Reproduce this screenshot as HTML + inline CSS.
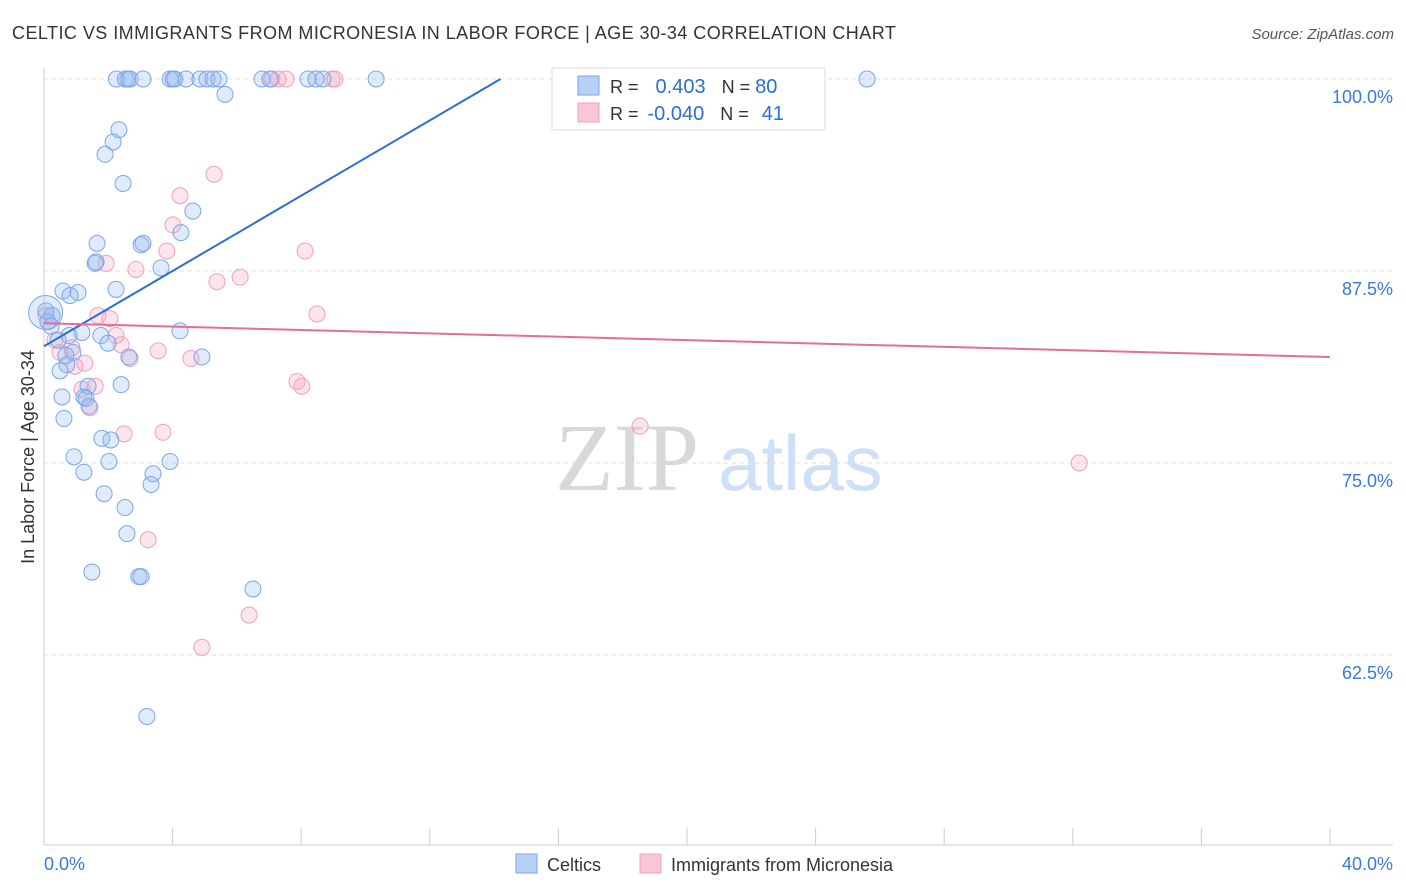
<!DOCTYPE html>
<html><head><meta charset="utf-8"><style>
body{margin:0;background:#fff;font-family:"Liberation Sans",sans-serif;}
svg{display:block}
</style></head><body>
<svg id="chart" width="1406" height="892" xmlns="http://www.w3.org/2000/svg">
<text x="12" y="39" font-size="18" fill="#333" letter-spacing="0.45">CELTIC VS IMMIGRANTS FROM MICRONESIA IN LABOR FORCE | AGE 30-34 CORRELATION CHART</text>
<text x="1394" y="39" font-size="15" fill="#555" font-style="italic" text-anchor="end">Source: ZipAtlas.com</text>
<text x="34" y="457" font-size="18" fill="#333" text-anchor="middle" transform="rotate(-90 34 457)">In Labor Force | Age 30-34</text>
<g id="grid"></g>
<text x="555" y="490" font-size="96" fill="#d8d8d8" font-family="Liberation Serif,serif">ZIP</text>
<text x="718" y="490" font-size="78" fill="#cfdff5">atlas</text>
<g id="marks"></g>
<g>
<rect x="552" y="68" width="273" height="62" fill="#fff" stroke="#ddd"/>
<rect x="578" y="76" width="21" height="19" fill="#b8d0f5" stroke="#7aa6e8"/>
<rect x="578" y="103" width="21" height="19" fill="#f9c6d6" stroke="#f0a0bc"/>
<text x="610" y="93" font-size="18" fill="#333">R = <tspan fill="#2a6fd4" dx="12" font-size="20">0.403</tspan><tspan dx="16" fill="#333">N = </tspan><tspan fill="#2a6fd4" font-size="20">80</tspan></text>
<text x="610" y="120" font-size="18" fill="#333">R = <tspan fill="#2a6fd4" dx="4" font-size="20">-0.040</tspan><tspan dx="16" fill="#333">N = </tspan><tspan fill="#2a6fd4" dx="8" font-size="20">41</tspan></text>
</g>
<g>
<rect x="516" y="854" width="21" height="19" fill="#b8d0f5" stroke="#7aa6e8"/>
<text x="547" y="871" font-size="18" fill="#333">Celtics</text>
<rect x="640" y="854" width="21" height="19" fill="#f9c6d6" stroke="#f0a0bc"/>
<text x="671" y="871" font-size="18" fill="#333">Immigrants from Micronesia</text>
</g>
</svg>
<script>
const yTicks=[100,87.5,75,62.5];
const yTickLabels=["100.0%","87.5%","75.0%","62.5%"];
const xLabels=["0.0%","40.0%"];
const blueX=[2.25,2.53,2.68,2.61,3.08,3.92,4.01,4.07,4.42,4.85,5.07,5.26,5.44,6.78,7.03,8.21,8.46,8.68,10.33,25.6,5.63,2.33,2.15,1.9,2.46,4.63,4.26,1.65,3.02,3.08,1.59,1.62,3.64,0.59,1.06,2.24,0.81,0.06,0.25,0.12,0.22,4.23,1.18,0.78,1.77,1.99,0.44,0.9,0.68,2.64,4.91,0.71,0.5,1.37,2.4,0.56,1.24,1.31,1.4,0.62,1.8,2.08,0.93,2.02,3.39,3.92,1.24,3.33,1.87,2.52,2.58,1.49,2.95,3.02,6.5,3.2,0.05];
const blueY=[100,100,100,100,100,100,100,100,100,100,100,100,100,100,100,100,100,100,100,100,99.0,96.7,95.9,95.1,93.2,91.4,90.0,89.3,89.2,89.3,88.0,88.1,87.7,86.2,86.1,86.3,85.9,84.9,84.6,84.2,83.9,83.6,83.5,83.3,83.3,82.8,83.0,82.2,82.0,81.9,81.9,81.4,81.0,80.0,80.1,79.3,79.3,79.2,78.7,77.9,76.6,76.5,75.4,75.1,74.3,75.1,74.4,73.6,73.0,72.1,70.4,67.9,67.6,67.6,66.8,58.5,84.8];
const blueR=[8,8,8,8,8,8,8,8,8,8,8,8,8,8,8,8,8,8,8,8,8,8,8,8,8,8,8,8,8,8,8,8,8,8,8,8,8,8,8,8,8,8,8,8,8,8,8,8,8,8,8,8,8,8,8,8,8,8,8,8,8,8,8,8,8,8,8,8,8,8,8,8,8,8,8,8,17];
const pinkX=[7.09,7.28,7.53,8.96,9.05,5.29,4.23,4.01,8.12,3.82,1.93,2.86,6.1,5.38,8.49,1.68,2.05,2.24,0.34,2.4,0.87,3.55,2.68,4.57,1.27,0.96,7.87,8.02,1.59,1.18,1.43,2.49,3.7,18.54,32.2,3.24,6.38,4.91,0.06,0.5];
const pinkY=[100,100,100,100,100,93.8,92.4,90.5,88.8,88.8,88.0,87.6,87.1,86.8,84.7,84.6,84.4,83.3,83.0,82.7,82.5,82.3,81.8,81.8,81.5,81.3,80.3,80.0,80.0,79.8,78.6,76.9,77.0,77.4,75.0,70.0,65.1,63.0,84.6,82.2];
const fitBlue=[[0,82.6],[14.2,100]];
const fitPink=[[0,84.1],[40,81.9]];
const X=v=>44+v/40*1286, Y=v=>79+(100-v)*15.36;
const ns="http://www.w3.org/2000/svg";
const grid=document.getElementById('grid'), marks=document.getElementById('marks');
function mk(tag,at,parent){const e=document.createElementNS(ns,tag);for(const k in at)e.setAttribute(k,at[k]);parent.appendChild(e);return e;}
yTicks.forEach((t,i)=>{
 const l=mk('line',{x1:44,x2:1393,y1:Y(t),y2:Y(t),stroke:'#ddd','stroke-dasharray':'4,4'},grid);
 
 
 const tx=mk('text',{x:1393,y:Y(t)+24,'font-size':18,fill:'#3b78d8','text-anchor':'end'},grid);
 tx.textContent=yTickLabels[i];
 
 
});
const ax=mk('line',{x1:44,x2:1393,y1:845,y2:845,stroke:'#ccc'},grid);


const ay=mk('line',{x1:44,x2:44,y1:68,y2:845,stroke:'#ccc'},grid);


for(let i=1;i<=10;i++){const t=mk('line',{x1:X(i*4),x2:X(i*4),y1:828,y2:845,stroke:'#ccc'},grid);
 
 }
[[0,'start',44],[40,'end',1393]].forEach((d,i)=>{const t=mk('text',{x:d[2],y:870,'font-size':18,fill:'#3b78d8','text-anchor':d[1]},grid);t.textContent=xLabels[i];
 
 });
pinkX.forEach((x,i)=>{const c=mk('circle',{cx:X(x),cy:Y(pinkY[i]),r:8,fill:'rgba(245,170,195,0.3)',stroke:'#f0a0bc','stroke-width':1},marks);
 
 });
blueX.forEach((x,i)=>{const c=mk('circle',{cx:X(x),cy:Y(blueY[i]),r:blueR[i],fill:'rgba(150,185,240,0.3)',stroke:'#7aa6e8','stroke-width':1},marks);
 
 });
const lb=mk('line',{x1:X(fitBlue[0][0]),y1:Y(fitBlue[0][1]),x2:X(fitBlue[1][0]),y2:Y(fitBlue[1][1]),stroke:'#2a6fd4','stroke-width':2},marks);


const lp=mk('line',{x1:X(fitPink[0][0]),y1:Y(fitPink[0][1]),x2:X(fitPink[1][0]),y2:Y(fitPink[1][1]),stroke:'#e86b9a','stroke-width':2},marks);


</script>
</body></html>
